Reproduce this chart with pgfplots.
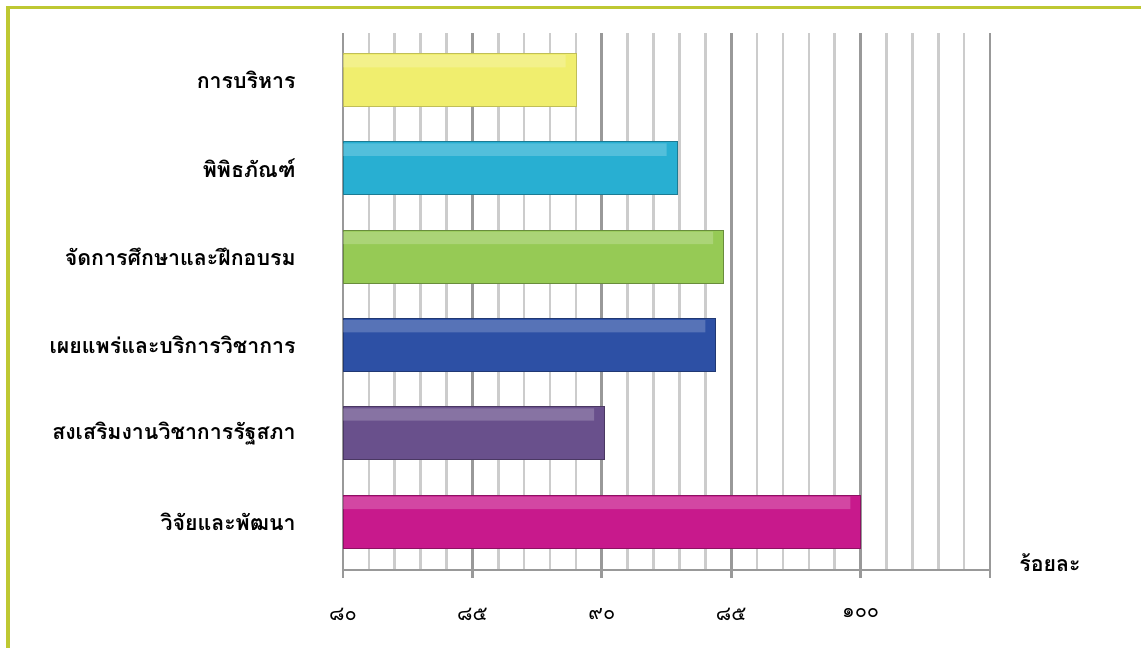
\documentclass[border=0pt]{standalone}
\usepackage{pgfplots}
\pgfplotsset{compat=1.18}
\usepackage{fontspec}
\newfontfamily\thaifont[Script=Thai]{Loma}
\setmainfont[Script=Thai]{Loma}

\definecolor{frame}{RGB}{190,200,50}
\definecolor{cYel}{RGB}{240,238,110}
\definecolor{cCya}{RGB}{40,175,210}
\definecolor{cGrn}{RGB}{150,202,85}
\definecolor{cBlu}{RGB}{45,80,165}
\definecolor{cPur}{RGB}{105,80,140}
\definecolor{cMag}{RGB}{200,25,140}

\begin{document}
\begin{tikzpicture}[x=0.75pt,y=0.75pt]
\useasboundingbox (0,0) rectangle (1141,648);
\draw[frame,line width=2.4pt] (8,0) -- (8,640.5) -- (1141,640.5);
\begin{axis}[
  at={(343*0.75pt,78*0.75pt)}, anchor=south west,
  scale only axis, width=647*0.75pt, height=537*0.75pt,
  xbar, bar shift=0pt, bar width=0.6,
  xmin=80, xmax=105, ymin=-0.55, ymax=5.53,
  axis x line*=bottom, axis y line*=left,
  axis line style={gray!80, line width=2pt},
  xtick={80,85,90,95,100,105},
  xticklabels={๘๐,๘๕,๙๐,๘๕,๑๐๐,},
  minor x tick num=4,
  xmajorgrids, xminorgrids,
  major grid style={gray!80, line width=2pt},
  minor grid style={gray!40, line width=2pt},
  major x tick style={gray!80, line width=2pt},
  tick align=outside, major tick length=6pt, minor tick length=0pt,
  xticklabel style={font=\thaifont\fontsize{15}{15}\selectfont, yshift=-19pt},
  ytick={0,1,2,3,4,5},
  yticklabels={วิจัยและพัฒนา,สงเสริมงานวิชาการรัฐสภา,เผยแพร่และบริการวิชาการ,จัดการศึกษาและฝึกอบรม,พิพิธภัณฑ์,การบริหาร},
  ytick style={draw=none},
  yticklabel style={font=\thaifont\bfseries\fontsize{16}{16}\selectfont, xshift=-26pt},
  clip=false,
]
\addplot[fill=cMag, draw=cMag!70!black] coordinates {(100,0)};
\addplot[fill=cPur, draw=cPur!70!black] coordinates {(90.1,1)};
\addplot[fill=cBlu, draw=cBlu!70!black] coordinates {(94.4,2)};
\addplot[fill=cGrn, draw=cGrn!70!black] coordinates {(94.7,3)};
\addplot[fill=cCya, draw=cCya!70!black] coordinates {(92.9,4)};
\addplot[fill=cYel, draw=cYel!80!black] coordinates {(89.0,5)};
% gloss band along the top of each bar
\addplot[fill=white, fill opacity=0.2, draw=none, bar width=0.14, bar shift=0.21]
  coordinates {(99.6,0) (89.7,1) (94.0,2) (94.3,3) (92.5,4) (88.6,5)};
\node[font=\thaifont\bfseries\fontsize{16}{16}\selectfont, anchor=center]
  at (rel axis cs:1,0) [xshift=60*0.75pt, yshift=7*0.75pt] {ร้อยละ};
\end{axis}
\end{tikzpicture}
\end{document}
